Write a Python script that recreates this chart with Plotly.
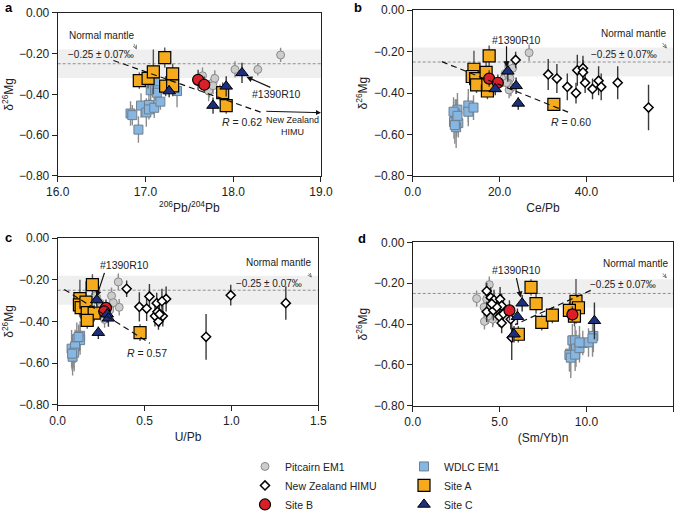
import plotly.graph_objects as go

# ---- panel a: 206Pb/204Pb ----
a_wdlc_x = [16.83, 16.85, 16.95, 17.01, 17.04, 17.04, 17.10, 17.06, 17.11, 17.11, 17.13, 17.17, 17.36, 16.92]
a_wdlc_y = [-0.494, -0.502, -0.455, -0.489, -0.452, -0.474, -0.466, -0.38, -0.342, -0.38, -0.392, -0.436, -0.384, -0.573]
a_wdlc_e = [0.06, 0.05, 0.06, 0.07, 0.06, 0.05, 0.05, 0.07, 0.06, 0.05, 0.05, 0.04, 0.08, 0.065]
a_pit_x = [17.65, 17.77, 17.79, 17.73, 17.72, 17.85, 17.77, 18.02, 18.28, 18.54]
a_pit_y = [-0.309, -0.342, -0.322, -0.376, -0.384, -0.392, -0.358, -0.278, -0.278, -0.207]
a_pit_e = [0.04, 0.04, 0.04, 0.04, 0.05, 0.04, 0.04, 0.04, 0.03, 0.035]
a_nz_x = []
a_nz_y = []
a_nz_e = []
a_A_x = [16.93, 17.03, 17.09, 17.22, 17.31, 17.23, 17.31, 17.88, 17.92]
a_A_y = [-0.333, -0.322, -0.29, -0.22, -0.30, -0.36, -0.359, -0.392, -0.455]
a_A_e = [0.04, 0.05, 0.11, 0.05, 0.05, 0.05, 0.05, 0.05, 0.04]
a_B_x = [17.60, 17.67]
a_B_y = [-0.329, -0.353]
a_B_e = [0.05, 0.04]
a_C_x = [17.27, 17.77, 17.92, 18.10]
a_C_y = [-0.384, -0.455, -0.361, -0.295]
a_C_e = [0.03, 0.04, 0.05, 0.05]

# ---- panel b: Ce/Pb ----
b_wdlc_x = [10.3, 9.8, 9.5, 10.1, 10.5, 10.0, 12.8, 12.8, 14.0, 9.4, 10.3, 9.7]
b_wdlc_y = [-0.48, -0.50, -0.54, -0.52, -0.545, -0.565, -0.46, -0.49, -0.47, -0.49, -0.51, -0.555]
b_wdlc_e = [0.08, 0.07, 0.08, 0.09, 0.07, 0.10, 0.08, 0.07, 0.06, 0.07, 0.08, 0.09]
b_pit_x = [26.8, 23.0, 21.3, 21.0, 22.0, 22.4, 22.0, 22.6, 22.2, 21.6]
b_pit_y = [-0.205, -0.28, -0.306, -0.33, -0.31, -0.329, -0.352, -0.375, -0.385, -0.35]
b_pit_e = [0.04, 0.04, 0.05, 0.04, 0.04, 0.04, 0.05, 0.04, 0.04, 0.04]
b_nz_x = [23.7, 31.2, 33.2, 35.6, 37.6, 37.9, 39.2, 39.2, 39.7, 41.4, 42.8, 43.4, 47.2, 54.3]
b_nz_y = [-0.24, -0.31, -0.33, -0.37, -0.40, -0.29, -0.28, -0.30, -0.35, -0.38, -0.34, -0.37, -0.35, -0.47]
b_nz_e = [0.04, 0.075, 0.07, 0.065, 0.05, 0.075, 0.06, 0.06, 0.05, 0.05, 0.07, 0.065, 0.08, 0.11]
b_A_x = [17.6, 14.1, 13.7, 14.5, 14.7, 16.9, 17.2, 17.3, 32.5]
b_A_y = [-0.22, -0.285, -0.32, -0.33, -0.36, -0.30, -0.39, -0.36, -0.455]
b_A_e = [0.05, 0.09, 0.05, 0.05, 0.04, 0.05, 0.04, 0.04, 0.03]
b_B_x = [17.6, 19.6]
b_B_y = [-0.33, -0.35]
b_B_e = [0.04, 0.04]
b_C_x = [21.9, 23.8, 24.3, 19.0]
b_C_y = [-0.295, -0.365, -0.45, -0.38]
b_C_e = [0.05, 0.04, 0.03, 0.03]

# ---- panel c: U/Pb ----
c_wdlc_x = [0.129, 0.11, 0.09, 0.08, 0.086, 0.129, 0.12, 0.10, 0.095, 0.083]
c_wdlc_y = [-0.469, -0.485, -0.546, -0.531, -0.57, -0.49, -0.475, -0.52, -0.55, -0.555]
c_wdlc_e = [0.07, 0.08, 0.08, 0.09, 0.09, 0.07, 0.06, 0.08, 0.09, 0.08]
c_pit_x = [0.349, 0.31, 0.354, 0.215, 0.244, 0.263, 0.30, 0.27, 0.32, 0.25]
c_pit_y = [-0.21, -0.277, -0.332, -0.277, -0.312, -0.36, -0.345, -0.39, -0.31, -0.33]
c_pit_e = [0.04, 0.04, 0.04, 0.04, 0.04, 0.05, 0.04, 0.04, 0.04, 0.04]
c_nz_x = [0.397, 0.47, 0.528, 0.512, 0.57, 0.624, 0.60, 0.56, 0.58, 0.574, 0.605, 0.586, 0.854, 0.996, 1.313]
c_nz_y = [-0.243, -0.33, -0.28, -0.338, -0.312, -0.292, -0.303, -0.374, -0.40, -0.354, -0.374, -0.365, -0.474, -0.274, -0.312]
c_nz_e = [0.04, 0.07, 0.06, 0.06, 0.05, 0.06, 0.06, 0.05, 0.04, 0.05, 0.05, 0.06, 0.11, 0.05, 0.08]
c_A_x = [0.20, 0.128, 0.125, 0.135, 0.163, 0.17, 0.21, 0.17, 0.474]
c_A_y = [-0.223, -0.29, -0.32, -0.334, -0.307, -0.358, -0.36, -0.395, -0.454]
c_A_e = [0.05, 0.09, 0.05, 0.05, 0.10, 0.05, 0.04, 0.04, 0.04]
c_B_x = [0.278, 0.268]
c_B_y = [-0.335, -0.352]
c_B_e = [0.04, 0.04]
c_C_x = [0.225, 0.285, 0.292, 0.234]
c_C_y = [-0.297, -0.365, -0.385, -0.454]
c_C_e = [0.04, 0.04, 0.04, 0.03]

# ---- panel d: (Sm/Yb)n ----
d_wdlc_x = [9.19, 9.35, 9.06, 9.02, 9.10, 9.40, 9.35, 9.60, 9.79, 10.12, 10.40, 10.35, 9.60]
d_wdlc_y = [-0.48, -0.48, -0.545, -0.552, -0.565, -0.52, -0.55, -0.518, -0.493, -0.49, -0.458, -0.47, -0.49]
d_wdlc_e = [0.08, 0.07, 0.09, 0.08, 0.1, 0.09, 0.08, 0.07, 0.06, 0.07, 0.08, 0.09, 0.08]
d_pit_x = [3.68, 4.41, 4.26, 4.11, 4.13, 4.45, 4.64, 4.60, 4.93, 4.35]
d_pit_y = [-0.275, -0.207, -0.278, -0.317, -0.387, -0.317, -0.356, -0.376, -0.34, -0.36]
d_pit_e = [0.04, 0.04, 0.04, 0.05, 0.04, 0.04, 0.05, 0.04, 0.04, 0.04]
d_nz_x = [4.26, 4.49, 4.68, 4.26, 4.64, 5.03, 5.12, 4.84, 4.99, 5.22, 5.12, 5.64, 5.70, 4.55]
d_nz_y = [-0.238, -0.27, -0.282, -0.34, -0.333, -0.278, -0.31, -0.317, -0.364, -0.35, -0.395, -0.376, -0.466, -0.30]
d_nz_e = [0.04, 0.05, 0.05, 0.05, 0.05, 0.06, 0.06, 0.05, 0.05, 0.06, 0.05, 0.05, 0.11, 0.05]
d_A_x = [6.81, 7.10, 7.43, 8.04, 9.40, 9.54, 9.02, 9.31, 6.08]
d_A_y = [-0.22, -0.30, -0.392, -0.356, -0.289, -0.32, -0.333, -0.361, -0.45]
d_A_e = [0.04, 0.05, 0.04, 0.04, 0.11, 0.05, 0.04, 0.05, 0.04]
d_B_x = [5.57, 9.19]
d_B_y = [-0.333, -0.353]
d_B_e = [0.05, 0.04]
d_C_x = [6.30, 6.03, 5.83, 10.46]
d_C_y = [-0.298, -0.364, -0.45, -0.384]
d_C_e = [0.04, 0.04, 0.04, 0.09]

# regression arrows (start, end) per panel
trend_a = [(16.635, -0.234), (18.33, -0.49)]
trend_b = [(6.7, -0.248), (36.6, -0.499)]
trend_c = [(0.038, -0.246), (0.531, -0.505)]
trend_d = [(10.25, -0.235), (5.89, -0.403)]

FONT = "Liberation Sans, Arial, sans-serif"

styles = {
    "wdlc": dict(name="WDLC EM1", symbol="square", size=9, color="#86b6e2", line="#6f7f8f", lw=1, err="#8c8c8c", legend="legend2", rank=1),
    "pit": dict(name="Pitcairn EM1", symbol="circle", size=8, color="#cccccc", line="#8a8a8a", lw=1, err="#8c8c8c", legend="legend", rank=1),
    "nz": dict(name="New Zealand HIMU", symbol="diamond", size=7, color="white", line="black", lw=1.5, err="#3a3a3a", legend="legend", rank=2),
    "A": dict(name="Site A", symbol="square", size=12, color="#f5ab1c", line="black", lw=1.2, err="#555555", legend="legend2", rank=2),
    "B": dict(name="Site B", symbol="circle", size=11, color="#d9202a", line="black", lw=1.2, err="#444444", legend="legend", rank=3),
    "C": dict(name="Site C", symbol="triangle-up", size=11, color="#1c2f7c", line="black", lw=1, err="#333333", legend="legend2", rank=3),
}

panels = [
    ("a", "x", "y", {"wdlc": (a_wdlc_x, a_wdlc_y, a_wdlc_e), "pit": (a_pit_x, a_pit_y, a_pit_e), "nz": (a_nz_x, a_nz_y, a_nz_e),
                     "A": (a_A_x, a_A_y, a_A_e), "B": (a_B_x, a_B_y, a_B_e), "C": (a_C_x, a_C_y, a_C_e)}),
    ("b", "x2", "y2", {"wdlc": (b_wdlc_x, b_wdlc_y, b_wdlc_e), "pit": (b_pit_x, b_pit_y, b_pit_e), "nz": (b_nz_x, b_nz_y, b_nz_e),
                       "A": (b_A_x, b_A_y, b_A_e), "B": (b_B_x, b_B_y, b_B_e), "C": (b_C_x, b_C_y, b_C_e)}),
    ("c", "x3", "y3", {"wdlc": (c_wdlc_x, c_wdlc_y, c_wdlc_e), "pit": (c_pit_x, c_pit_y, c_pit_e), "nz": (c_nz_x, c_nz_y, c_nz_e),
                       "A": (c_A_x, c_A_y, c_A_e), "B": (c_B_x, c_B_y, c_B_e), "C": (c_C_x, c_C_y, c_C_e)}),
    ("d", "x4", "y4", {"wdlc": (d_wdlc_x, d_wdlc_y, d_wdlc_e), "pit": (d_pit_x, d_pit_y, d_pit_e), "nz": (d_nz_x, d_nz_y, d_nz_e),
                       "A": (d_A_x, d_A_y, d_A_e), "B": (d_B_x, d_B_y, d_B_e), "C": (d_C_x, d_C_y, d_C_e)}),
]

fig = go.Figure()

for label, xa, ya, groups in panels:
    for key in ["wdlc", "pit", "nz", "A", "B", "C"]:
        s = styles[key]
        x, y, e = groups[key]
        fig.add_trace(go.Scatter(
            x=x, y=y, mode="markers", name=s["name"], xaxis=xa, yaxis=ya,
            error_y=dict(type="data", array=e, color=s["err"], thickness=1.4, width=0),
            marker=dict(symbol=s["symbol"], size=s["size"], color=s["color"],
                        line=dict(color=s["line"], width=s["lw"])),
            showlegend=(label == "a" and key != "nz") or (label == "b" and key == "nz"),
            legend=s["legend"], legendrank=s["rank"], cliponaxis=False,
        ))

# axes
dom = {
    "a": ([0.0842, 0.4686], [0.6468, 0.9744]),
    "b": ([0.6025, 0.9829], [0.6468, 0.9794]),
    "c": ([0.0842, 0.4647], [0.1875, 0.5216]),
    "d": ([0.6025, 0.9829], [0.1855, 0.5131]),
}
xinfo = {
    "a": ([16, 19], 1, "<sup>206</sup>Pb/<sup>204</sup>Pb"),
    "b": ([0, 60], 20, "Ce/Pb"),
    "c": ([0, 1.5], 0.5, "U/Pb"),
    "d": ([0, 15], 5, "(Sm/Yb)n"),
}
layout_axes = {}
for i, (label, xa, ya, _) in enumerate(panels):
    suf = "" if i == 0 else str(i + 1)
    rng, dt, title = xinfo[label]
    common = dict(showline=True, linecolor="#222", linewidth=1, mirror=True, ticks="outside",
                  ticklen=5, tickcolor="#222", showgrid=False, zeroline=False, automargin=False,
                  tickfont=dict(size=12, color="#222", family=FONT))
    layout_axes["xaxis" + suf] = dict(common, domain=dom[label][0], range=rng, dtick=dt, tick0=0,
                                      tickformat=".1f", anchor="y" + suf,
                                      title=dict(text=title, font=dict(size=12, family=FONT, color="#222"), standoff=5))
    layout_axes["yaxis" + suf] = dict(common, domain=dom[label][1], range=[-0.8, 0], dtick=0.2,
                                      tickformat=".2f", anchor="x" + suf,
                                      title=dict(text="δ<sup>26</sup>Mg", font=dict(size=12, family=FONT, color="#222"), standoff=3))

shapes = []
annotations = []
trends = [trend_a, trend_b, trend_c, trend_d]
for i, (label, xa, ya, _) in enumerate(panels):
    # normal mantle band and mean line
    shapes.append(dict(type="rect", xref=xa + " domain", yref=ya, x0=0, x1=1, y0=-0.32, y1=-0.18,
                       fillcolor="#efefef", line=dict(width=0), layer="below"))
    shapes.append(dict(type="line", xref=xa + " domain", yref=ya, x0=0, x1=1, y0=-0.25, y1=-0.25,
                       line=dict(color="#777", width=0.8, dash="3px,2px"), layer="below"))
    (x0, y0), (x1, y1) = trends[i]
    shapes.append(dict(type="line", xref=xa, yref=ya, x0=x0, y0=y0, x1=x1, y1=y1,
                       line=dict(color="#111", width=1.2, dash="6px,4px")))
    annotations.append(dict(x=x1, y=y1, xref=xa, yref=ya, ax=x1 - (x1 - x0) * 0.02, ay=y1 - (y1 - y0) * 0.02,
                            axref=xa, ayref=ya, text="", showarrow=True, arrowhead=5, arrowsize=1.3,
                            arrowwidth=1, arrowcolor="#111"))

txt = dict(size=10, family=FONT, color="#222")


def note(xa, ya, x, y, text, size=10):
    annotations.append(dict(x=x, y=y, xref=xa, yref=ya, text=text, showarrow=False,
                            font=dict(txt, size=size), xanchor="center", yanchor="middle"))


def arrow(xa, ya, tail, head, head_style=2, width=1.2, color="#111", size=1):
    annotations.append(dict(x=head[0], y=head[1], ax=tail[0], ay=tail[1], xref=xa, yref=ya,
                            axref=xa, ayref=ya, text="", showarrow=True, arrowhead=head_style,
                            arrowsize=size, arrowwidth=width, arrowcolor=color))


# panel a
note("x", "y", 16.50, -0.11, "Normal mantle")
arrow("x", "y", (16.86, -0.145), (16.90, -0.18), 5, 0.7, "#555")
note("x", "y", 16.49, -0.207, "−0.25 ± 0.07‰")
note("x", "y", 18.49, -0.40, "#1390R10", 10.5)
arrow("x", "y", (18.44, -0.369), (18.15, -0.314), 2, 1.2)
note("x", "y", 18.10, -0.538, "<i>R</i> = 0.62", 10.5)
note("x", "y", 18.68, -0.556, "New Zealand<br>HIMU", 9)
arrow("x", "y", (18.36, -0.483), (19.0, -0.49), 2, 1.0)

# panel b
note("x2", "y2", 50.8, -0.113, "Normal mantle")
arrow("x2", "y2", (57.3, -0.151), (58.5, -0.185), 5, 0.7, "#555")
note("x2", "y2", 48.7, -0.216, "−0.25 ± 0.07‰")
note("x2", "y2", 23.8, -0.144, "#1390R10", 10.5)
arrow("x2", "y2", (21.6, -0.167), (21.6, -0.275), 2, 1.2)
note("x2", "y2", 36.4, -0.542, "<i>R</i> = 0.60", 10.5)

# panel c
note("x3", "y3", 1.27, -0.115, "Normal mantle")
arrow("x3", "y3", (1.437, -0.162), (1.462, -0.189), 5, 0.7, "#555")
note("x3", "y3", 1.218, -0.22, "−0.25 ± 0.07‰")
note("x3", "y3", 0.382, -0.128, "#1390R10", 10.5)
arrow("x3", "y3", (0.272, -0.159), (0.224, -0.282), 2, 1.2)
note("x3", "y3", 0.512, -0.554, "<i>R</i> = 0.57", 10.5)

# panel d
note("x4", "y4", 12.8, -0.105, "Normal mantle")
arrow("x4", "y4", (14.33, -0.144), (14.62, -0.176), 5, 0.7, "#555")
note("x4", "y4", 12.12, -0.207, "−0.25 ± 0.07‰")
note("x4", "y4", 5.95, -0.136, "#1390R10", 10.5)
arrow("x4", "y4", (5.95, -0.168), (6.22, -0.27), 2, 1.2)

# panel letters
for lab, px, py in [("a", 3.3, 7.3), ("b", 352, 7.3), ("c", 3.3, 247), ("d", 356, 249)]:
    annotations.append(dict(x=px / 685, y=1 - py / 519, xref="paper", yref="paper", text="<b>%s</b>" % lab,
                            showarrow=False, xanchor="left", yanchor="middle",
                            font=dict(size=13, family=FONT, color="black")))

fig.update_layout(
    width=685, height=519,
    margin=dict(l=0, r=0, t=0, b=0),
    paper_bgcolor="white", plot_bgcolor="white",
    font=dict(family=FONT, size=11, color="#222"),
    shapes=shapes, annotations=annotations,
    legend=dict(x=245 / 685, y=1 - 471 / 519, xanchor="left", yanchor="top", bgcolor="rgba(0,0,0,0)",
                font=dict(size=10.5, family=FONT, color="#222"), tracegroupgap=0, itemwidth=30),
    legend2=dict(x=404 / 685, y=1 - 471 / 519, xanchor="left", yanchor="top", bgcolor="rgba(0,0,0,0)",
                 font=dict(size=10.5, family=FONT, color="#222"), tracegroupgap=0, itemwidth=30),
    **layout_axes,
)

# page body margin would shift the figure by 8px
fig.write_html("out.html", config={"displayModeBar": False},
               post_script="document.body.style.margin='0';")
